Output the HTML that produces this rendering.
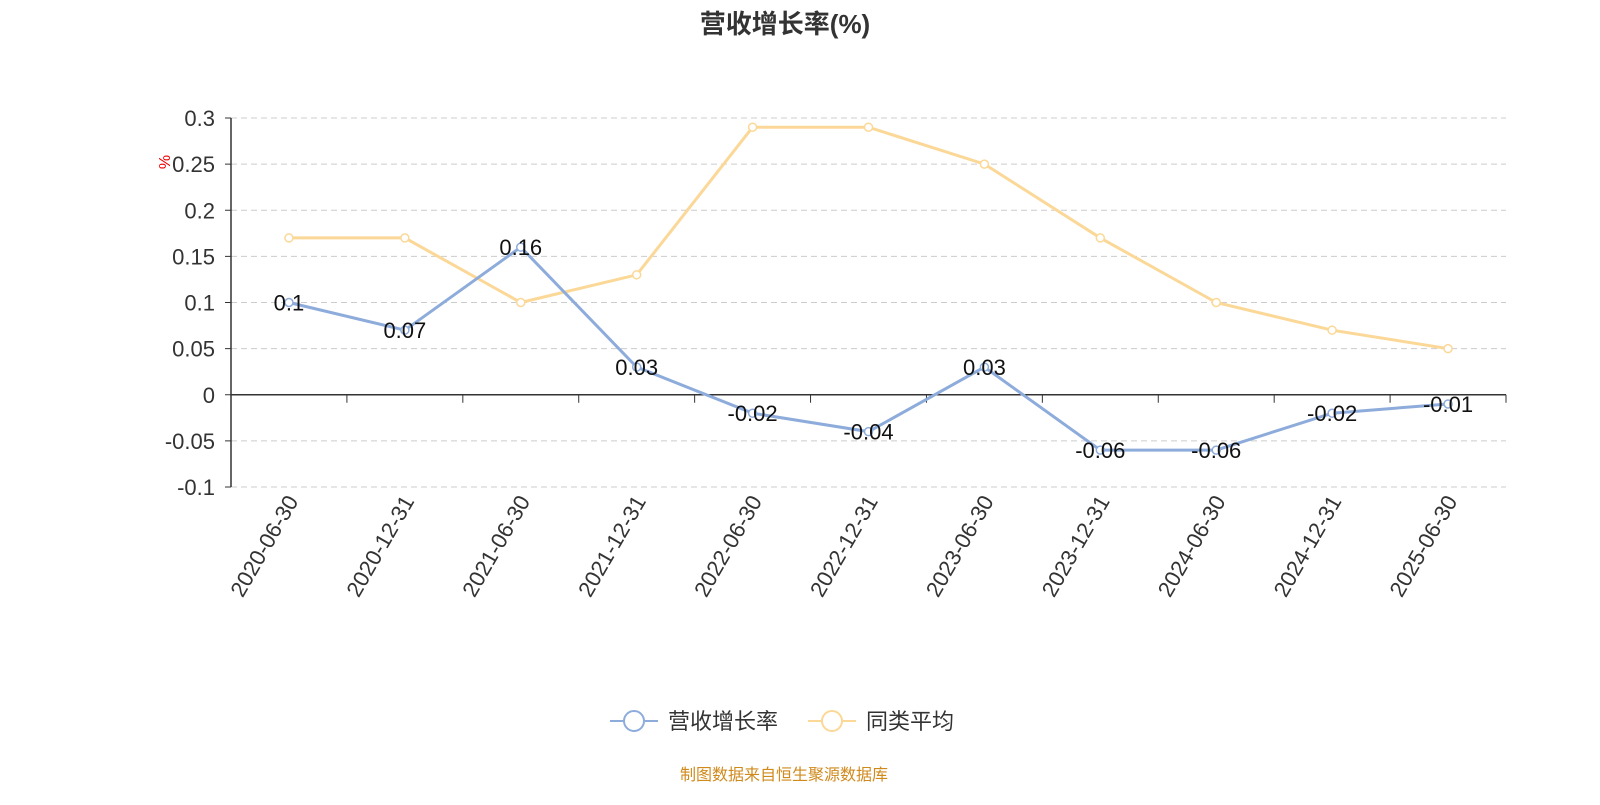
<!DOCTYPE html>
<html><head><meta charset="utf-8"><style>
body{margin:0;background:#fff;font-family:"Liberation Sans","Noto Sans CJK SC",sans-serif}
svg text{font-family:"Liberation Sans","Noto Sans CJK SC",sans-serif}
</style></head><body>
<svg id="c" width="1600" height="800" xmlns="http://www.w3.org/2000/svg">
<text x="785" y="33" text-anchor="middle" font-size="26" font-weight="bold" fill="#333">营收增长率(%)</text>
<text x="0" y="0" transform="translate(170,162) rotate(-90)" text-anchor="middle" font-size="16" fill="#e00">%</text>
<g id="grid"></g><g id="axes"></g><g id="series"></g>
<g>
<g>
<line x1="610" y1="721" x2="658" y2="721" stroke="#8eacdb" stroke-width="2"/>
<circle cx="634" cy="721" r="10" fill="#fff" stroke="#8eacdb" stroke-width="2"/>
<text x="668" y="729" font-size="22" fill="#333">营收增长率</text></g>
<g>
<line x1="808" y1="721" x2="856" y2="721" stroke="#fbd897" stroke-width="2"/>
<circle cx="832" cy="721" r="10" fill="#fff" stroke="#fbd897" stroke-width="2"/>
<text x="866" y="729" font-size="22" fill="#333">同类平均</text></g>
</g>
<text x="784" y="780" text-anchor="middle" font-size="16" fill="#d08a1c">制图数据来自恒生聚源数据库</text>
</svg>
<script>
const categories=["2020-06-30","2020-12-31","2021-06-30","2021-12-31","2022-06-30","2022-12-31","2023-06-30","2023-12-31","2024-06-30","2024-12-31","2025-06-30"];
const growthValues=[0.1,0.07,0.16,0.03,-0.02,-0.04,0.03,-0.06,-0.06,-0.02,-0.01];
const peerValues=[0.17,0.17,0.1,0.13,0.29,0.29,0.25,0.17,0.1,0.07,0.05];
const yTicks=[0.3,0.25,0.2,0.15,0.1,0.05,0,-0.05,-0.1];
const NS="http://www.w3.org/2000/svg";
const x0=231,x1=1506,yTop=118,yBot=487,yMax=0.3,yMin=-0.1;
const bw=(x1-x0)/categories.length;
const X=i=>x0+bw*(i+0.5);
const Y=v=>yTop+(yMax-v)/(yMax-yMin)*(yBot-yTop);
function mk(t,a,p){const e=document.createElementNS(NS,t);for(const k in a)e.setAttribute(k,a[k]);p.appendChild(e);return e;}
const grid=document.getElementById('grid'),axes=document.getElementById('axes'),ser=document.getElementById('series');
yTicks.forEach(v=>{
  if(v!==0){const l=mk('line',{x1:x0,x2:x1,y1:Y(v),y2:Y(v),stroke:'#ccc','stroke-dasharray':'6,4'},grid);
  
  }
  const t=mk('text',{x:x0-16,y:Y(v)+8,'text-anchor':'end','font-size':22,fill:'#333'},axes);t.textContent=String(v);
  
  
  mk('line',{x1:x0-6,x2:x0,y1:Y(v),y2:Y(v),stroke:'#333'},axes);
});
const ya=mk('line',{x1:x0,x2:x0,y1:yTop,y2:yBot,stroke:'#333','stroke-width':1.5},axes);


const xa=mk('line',{x1:x0,x2:x1,y1:Y(0),y2:Y(0),stroke:'#333','stroke-width':1.5},axes);


for(let i=0;i<=categories.length;i++)mk('line',{x1:x0+bw*i,x2:x0+bw*i,y1:Y(0),y2:Y(0)+8,stroke:'#333'},axes);
categories.forEach((c,i)=>{
  const t=mk('text',{transform:`translate(${X(i)+10},${yBot+14}) rotate(-60)`,'text-anchor':'end','font-size':22,fill:'#333'},axes);t.textContent=c;
  
  
});
function series(vals,color,name){
  const p=mk('polyline',{points:vals.map((v,i)=>X(i)+','+Y(v)).join(' '),fill:'none',stroke:color,'stroke-width':3},ser);
  
  
  vals.forEach((v,i)=>{
    const c=mk('circle',{cx:X(i),cy:Y(v),r:4,fill:'#fff',stroke:color,'stroke-width':1.5},ser);
    
    
  });
}
series(peerValues,'#fbd897','peer-average');
series(growthValues,'#8eacdb','revenue-growth');
growthValues.forEach((v,i)=>{
  const t=mk('text',{x:X(i),y:Y(v)+8,'text-anchor':'middle','font-size':22,fill:'#111'},ser);t.textContent=String(v);
  
  
});
</script>
</body></html>
